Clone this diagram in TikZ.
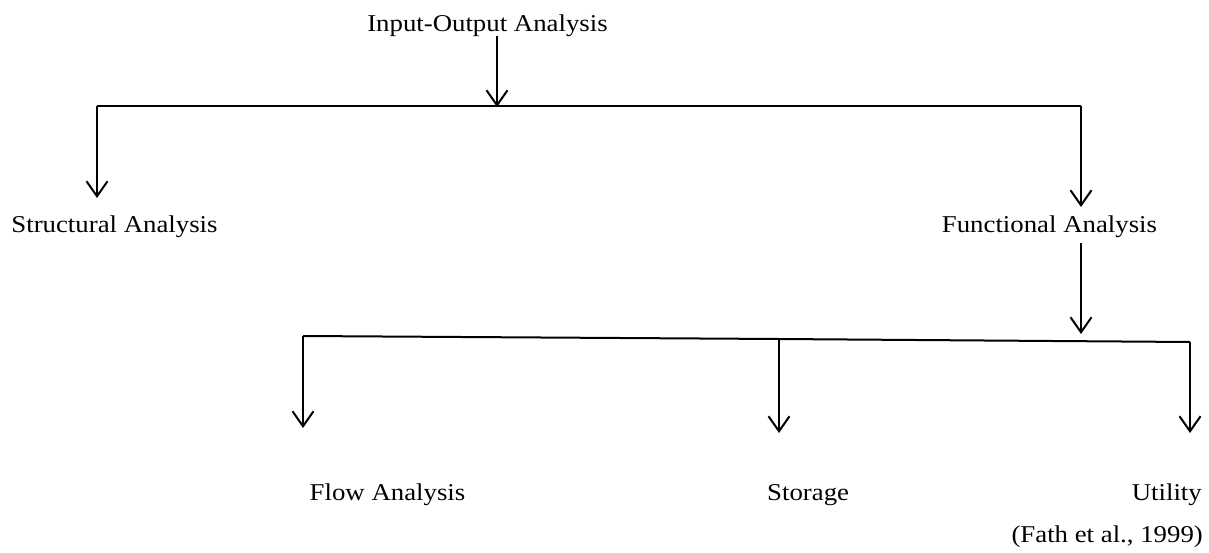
\documentclass[tikz,border=0pt]{standalone}
\usepackage{fontspec}
\setmainfont{Liberation Serif}
\usetikzlibrary{arrows.meta}
\newcommand{\squashtext}[1]{\scalebox{1}[0.9]{#1}}
\begin{document}
\begin{tikzpicture}[x=1pt,y=-1pt,
  lbl/.style={inner sep=0pt,anchor=base,font=\fontsize{26.8}{30}\selectfont},
  conn/.style={line width=2pt},
  arr/.style={conn,-{Straight Barb[length=15pt,width=21pt,line width=2pt]}}]
\useasboundingbox (0,0) rectangle (1209,553);
% labels
\node[lbl] (io) at (487.5,32) {\squashtext{Input-Output Analysis}};
\node[lbl] (sa) at (114.5,233) {\squashtext{Structural Analysis}};
\node[lbl] (fa) at (1049.5,233) {\squashtext{Functional Analysis}};
\node[lbl] (fl) at (387.5,500) {\squashtext{Flow Analysis}};
\node[lbl,anchor=base west] (st) at (767,500) {\squashtext{Storage}};
\node[lbl,anchor=base east] (ut) at (1202,500) {\squashtext{Utility}};
\node[lbl,anchor=base east] (src) at (1203,542) {\squashtext{(Fath et al., 1999)}};
% junction points
\coordinate (t1) at (497,36);
\coordinate (j1) at (497,107);
\coordinate (bl) at (97,106);
\coordinate (br) at (1081,106);
\coordinate (sat) at (97,198);
\coordinate (fat) at (1081,207);
\coordinate (f1) at (1081,243);
\coordinate (j2) at (1081,334);
\coordinate (cl) at (303,336);
\coordinate (cm) at (779,339);
\coordinate (cr) at (1190,342);
\coordinate (flt) at (303,428);
\coordinate (stt) at (779,433);
\coordinate (utt) at (1190,433);
% connectors
\draw[arr] (t1) -- (j1);
\draw[conn] (bl) -- (br);
\draw[arr] (bl) -- (sat);
\draw[arr] (br) -- (fat);
\draw[arr] (f1) -- (j2);
\draw[conn] (cl) -- (cm) -- (cr);
\draw[arr] (cl) -- (flt);
\draw[arr] (cm) -- (stt);
\draw[arr] (cr) -- (utt);
\end{tikzpicture}
\end{document}
